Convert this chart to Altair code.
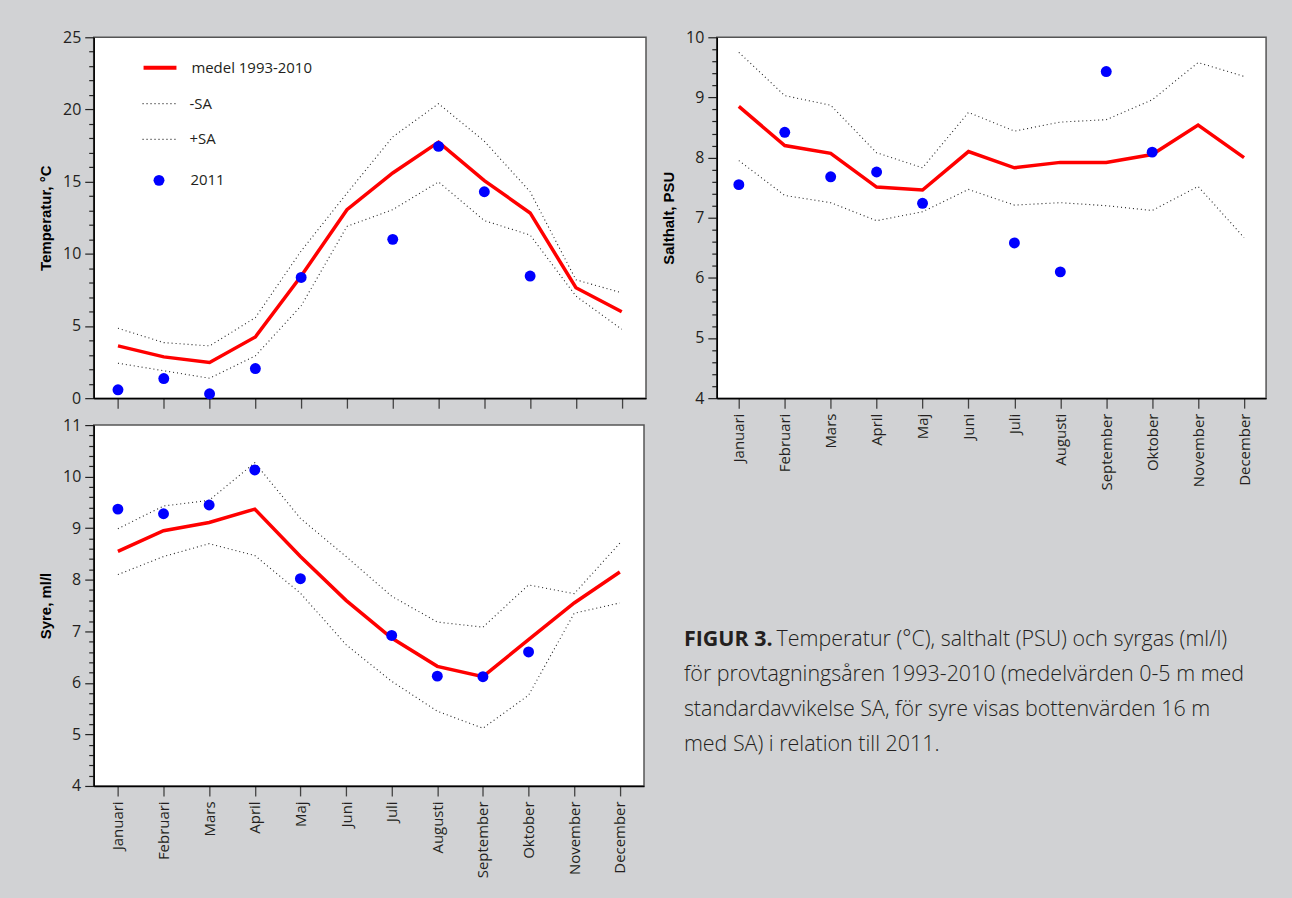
import altair as alt
import pandas as pd

MONTHS = ["Januari", "Februari", "Mars", "April", "Maj", "Juni", "Juli",
          "Augusti", "September", "Oktober", "November", "December"]
MEAN_NAME = "medel 1993-2010"
SA_NAMES = ["-SA", "+SA"]
OBS_NAME = "2011"

# Temperatur, °C (medel 0-5 m)
TEMP_MEAN = [3.62, 2.86, 2.47, 4.24, 8.46, 13.06, 15.6, 17.74, 15.07, 12.83, 7.65, 5.99]
TEMP_MINUS = [2.42, 1.9, 1.38, 2.93, 6.4, 11.9, 13.06, 14.98, 12.3, 11.3, 7.07, 4.77]
TEMP_PLUS = [4.84, 3.85, 3.62, 5.58, 10.2, 14.2, 18.1, 20.4, 17.8, 14.3, 8.2, 7.3]
TEMP_2011 = [0.58, 1.36, 0.3, 2.05, 8.36, None, 11.0, 17.44, 14.3, 8.46, None, None]

# Salthalt, PSU
SAL_MEAN = [8.85, 8.2, 8.07, 7.51, 7.46, 8.1, 7.83, 7.92, 7.92, 8.05, 8.54, 8.0]
SAL_MINUS = [7.95, 7.37, 7.25, 6.95, 7.1, 7.47, 7.21, 7.25, 7.2, 7.12, 7.52, 6.67]
SAL_PLUS = [9.75, 9.03, 8.87, 8.08, 7.83, 8.75, 8.44, 8.59, 8.63, 8.96, 9.58, 9.35]
SAL_2011 = [7.55, 8.42, 7.68, 7.76, 7.24, None, 6.58, 6.1, 9.43, 8.09, None, None]

# Syre, ml/l (bottenvärden 16 m)
OXY_MEAN = [8.55, 8.95, 9.11, 9.37, 8.45, 7.6, 6.87, 6.32, 6.12, 6.84, 7.55, 8.15]
OXY_MINUS = [8.1, 8.45, 8.7, 8.47, 7.74, 6.74, 6.03, 5.45, 5.12, 5.76, 7.35, 7.55]
OXY_PLUS = [8.99, 9.43, 9.54, 10.27, 9.19, 8.45, 7.68, 7.18, 7.08, 7.9, 7.73, 8.71]
OXY_2011 = [9.37, 9.28, 9.45, 10.13, 8.02, None, 6.92, 6.13, 6.12, 6.6, None, None]

CAPTION_BOLD = "FIGUR 3."
CAPTION_FIRST = "Temperatur (°C), salthalt (PSU) och syrgas (ml/l)"
CAPTION_REST = [
    "för provtagningsåren 1993-2010 (medelvärden 0-5 m med",
    "standardavvikelse SA, för syre visas bottenvärden 16 m",
    "med SA) i relation till 2011.",
]

LABEL_FONT = "Open Sans"
TITLE_FONT = "Liberation Sans"
CAPTION_FONT = "Open Sans"
INK = "#231f20"
RED = "#ff0000"
BLUE = "#0000ff"
DOT_INK = "#222222"


def frame(mean, minus, plus, obs):
    rows = []
    for i, m in enumerate(MONTHS):
        for name, vals in zip([MEAN_NAME] + SA_NAMES + [OBS_NAME], (mean, minus, plus, obs)):
            if vals[i] is not None:
                rows.append({"month": m, "series": name, "value": vals[i]})
    return pd.DataFrame(rows)


def leg(show, **kw):
    if not show:
        return None
    base = dict(title=None, orient="none", padding=0, rowPadding=10,
                labelFont=LABEL_FONT, labelFontSize=15, labelColor=INK)
    base.update(kw)
    return alt.Legend(**base)


def panel(df, domain, step, major_test, title, width, show_labels, with_legend, xpad):
    n = int(round((domain[1] - domain[0]) / step))
    ticks = [round(domain[0] + step * i, 1) for i in range(n + 1)]
    yaxis = alt.Axis(
        values=ticks,
        labelExpr=f"({major_test}) ? format(datum.value, '.0f') : ''",
        tickSize={"condition": {"test": major_test, "value": 9}, "value": 5},
        tickColor="#222222", tickWidth=1.2,
        domainColor="black", domainWidth=1.5,
        labelFont=LABEL_FONT, labelFontSize=16, labelColor=INK, labelPadding=4,
        title=title, titleFont=TITLE_FONT, titleFontWeight="bold", titleFontSize=15,
        titleColor="black", titlePadding=9, grid=False,
    )
    xaxis = alt.Axis(
        title=None, labels=show_labels, labelAngle=270,
        labelFont=LABEL_FONT, labelFontSize=15, labelColor=INK, labelPadding=5,
        tickSize=10, tickColor="#444444", tickWidth=1.3,
        domainColor="black", domainWidth=1.5, grid=False,
    )
    x = alt.X("month:O", sort=MONTHS, scale=alt.Scale(type="point", padding=xpad), axis=xaxis)
    y = alt.Y("value:Q", scale=alt.Scale(domain=domain, nice=False, zero=False), axis=yaxis)
    base = alt.Chart(df)

    sa = base.transform_filter(alt.FieldOneOfPredicate(field="series", oneOf=SA_NAMES)).mark_line(
        strokeWidth=1.1, color=DOT_INK).encode(
        x=x, y=y,
        strokeDash=alt.StrokeDash(
            "series:N", scale=alt.Scale(domain=SA_NAMES, range=[[1, 3], [1, 3]]),
            legend=leg(with_legend, legendX=48, legendY=49, symbolType="stroke",
                       symbolSize=1089, symbolStrokeWidth=1.2, symbolStrokeColor=DOT_INK,
                       labelOffset=13)))
    mean = base.transform_filter(alt.datum.series == MEAN_NAME).mark_line(
        strokeWidth=3.5).encode(
        x=x, y=y,
        stroke=alt.Stroke(
            "series:N", scale=alt.Scale(domain=[MEAN_NAME], range=[RED]),
            legend=leg(with_legend, legendX=48, legendY=12, symbolType="stroke",
                       symbolSize=1089, symbolStrokeWidth=4, labelOffset=13)))
    obs = base.transform_filter(alt.datum.series == OBS_NAME).mark_circle(
        size=120, opacity=1).encode(
        x=x, y=y,
        fill=alt.Fill(
            "series:N", scale=alt.Scale(domain=[OBS_NAME], range=[BLUE]),
            legend=leg(with_legend, legendX=58, legendY=136, symbolType="circle",
                       symbolSize=120, symbolOpacity=1, labelOffset=24)))
    return alt.layer(sa, mean, obs).resolve_legend(
        stroke="independent", strokeDash="independent", fill="independent"
    ).properties(width=width, height=362)


temp = panel(frame(TEMP_MEAN, TEMP_MINUS, TEMP_PLUS, TEMP_2011), [0, 25], 1,
             "datum.value % 5 === 0", "Temperatur, °C", 554, False, True, 0.53)
oxy = panel(frame(OXY_MEAN, OXY_MINUS, OXY_PLUS, OXY_2011), [4, 11], 0.2,
            "abs(datum.value - round(datum.value)) < 0.001", "Syre, ml/l", 552, True, False, 0.53)
sal = panel(frame(SAL_MEAN, SAL_MINUS, SAL_PLUS, SAL_2011), [4, 10], 0.2,
            "abs(datum.value - round(datum.value)) < 0.001", "Salthalt, PSU", 551, True, False, 0.48)

# Figure caption below the salinity panel
cap_first = pd.DataFrame({"bold": [CAPTION_BOLD], "text": [CAPTION_FIRST]})
cap_rest = pd.DataFrame({"row": list(range(1, len(CAPTION_REST) + 1)), "text": CAPTION_REST})
row_scale = alt.Scale(domain=[0, 3], range=[130, 235])
cap_style = dict(align="left", baseline="middle", font=CAPTION_FONT, fontSize=21.5, color=INK)
cap_a = alt.Chart(cap_first).mark_text(fontWeight="bold", **cap_style).encode(
    x=alt.value(-33), y=alt.value(130), text="bold:N")
cap_b = alt.Chart(cap_first).mark_text(fontWeight=300, **cap_style).encode(
    x=alt.value(60), y=alt.value(130), text="text:N")
cap_c = alt.Chart(cap_rest).mark_text(fontWeight=300, **cap_style).encode(
    x=alt.value(-33), y=alt.Y("row:Q", scale=row_scale, axis=None), text="text:N")
caption = alt.layer(cap_a, cap_b, cap_c).properties(
    width=551, height=300, view=alt.ViewBackground(stroke=None, fill=None))

left = alt.vconcat(temp, oxy, spacing=6)
right = alt.vconcat(sal, caption, spacing=20)

chart = alt.hconcat(left, right, spacing=13).properties(
    padding={"left": 37, "top": 27, "right": 25, "bottom": 21}
).configure(background="#d1d2d4").configure_view(
    fill="white", stroke="#555555", strokeWidth=1.5
)

chart.save("out.html", embed_options={"renderer": "svg", "actions": False})
